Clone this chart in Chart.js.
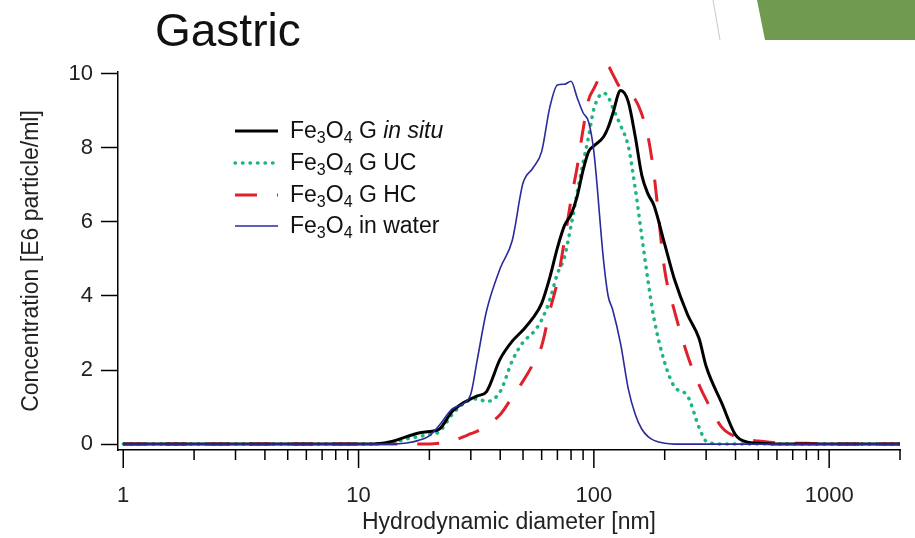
<!DOCTYPE html>
<html>
<head>
<meta charset="utf-8">
<script src="https://cdn.jsdelivr.net/npm/chart.js@4.4.1/dist/chart.umd.min.js"></script>
<style>
  body { margin: 0; background: #fff; }
  canvas { display: block; }
</style>
</head>
<body>
<canvas id="gastricChart" width="915" height="538"></canvas>
<script>
// hydrodynamic diameter grid (nm), shared by all series
const diameters = [1, 5, 10, 12, 14, 16, 18, 20, 22, 25, 28, 30, 32, 35, 40, 45, 50, 55, 60, 65,
                   70, 75, 80, 85, 90, 95, 100, 110, 115, 120, 130, 140, 150, 160, 170, 180, 200,
                   220, 250, 280, 300, 350, 400, 450, 500, 600, 700, 800, 1000, 2000];

// concentration, E6 particle/ml
const inSitu = [0, 0, 0, 0.01, 0.08, 0.2, 0.3, 0.34, 0.4, 0.88, 1.12, 1.22, 1.3, 1.42, 2.3, 2.78, 3.08, 3.4, 3.8, 4.5,
                5.3, 5.9, 6.2, 6.7, 7.4, 7.9, 8.05, 8.3, 8.55, 8.9, 9.55, 9.25, 8.3, 7.25, 6.75, 6.45, 5.4,
                4.45, 3.5, 2.85, 2.1, 1.1, 0.25, 0.05, 0.02, 0, 0, 0, 0, 0];
const ucValues = [0, 0, 0, 0.01, 0.04, 0.14, 0.2, 0.26, 0.33, 0.8, 1.1, 1.2, 1.22, 1.15, 1.42, 2.25, 2.75, 3.0, 3.35, 3.9,
                  4.6, 5.05, 5.9, 6.8, 7.6, 8.3, 9.05, 9.48, 9.38, 9.1, 8.6, 8.05, 6.9, 5.6, 4.4, 3.4, 2.2,
                  1.55, 1.3, 0.45, 0.08, 0, 0, 0, 0, 0, 0, 0, 0, 0];
const hcValues = [0, 0, 0, 0, 0, 0, 0, 0, 0.02, 0.08, 0.2, 0.28, 0.35, 0.5, 0.8, 1.27, 1.7, 2.15, 2.65, 3.6,
                  4.4, 5.5, 6.6, 7.5, 8.5, 9.3, 9.6, 10.1, 10.2, 10.0, 9.6, 9.45, 9.3, 8.9, 8.3, 7.3, 4.7,
                  3.6, 2.4, 1.6, 1.2, 0.45, 0.2, 0.12, 0.08, 0.03, 0.02, 0.02, 0, 0];
const waterValues = [0, 0, 0, 0, 0, 0.03, 0.1, 0.22, 0.5, 0.95, 1.1, 1.35, 2.3, 3.6, 4.75, 5.5, 7.05, 7.45, 7.9, 9.1,
                     9.7, 9.72, 9.8, 9.35, 8.95, 8.7, 7.9, 4.95, 4.0, 3.65, 2.7, 1.5, 0.8, 0.4, 0.2, 0.1, 0.02,
                     0, 0, 0, 0, 0, 0, 0, 0, 0, 0, 0, 0, 0];

const seriesLabels = ["Fe3O4 G in situ", "Fe3O4 G UC", "Fe3O4 G HC", "Fe3O4 in water"];

const xTickValues = [1, 2, 3, 4, 5, 6, 7, 8, 9, 10, 20, 30, 40, 50, 60, 70, 80, 90,
                     100, 200, 300, 400, 500, 600, 700, 800, 900, 1000, 2000];
const xMajorTicks = [1, 10, 100, 1000];
const yTickValues = [0, 2, 4, 6, 8, 10];

const FONT = '"Liberation Sans", Arial, sans-serif';

function toPoints(values) {
    return diameters.map((d, i) => ({x: d, y: values[i]}));
}

// title, slide decoration, legend with subscripts, x tick marks
const decorPlugin = {
    id: "decor",
    afterDraw(chart) {
        const ctx = chart.ctx;
        ctx.save();

        ctx.fillStyle = "#111";
        ctx.font = "46px " + FONT;
        ctx.textBaseline = "alphabetic";
        ctx.fillText("Gastric", 155, 46);

        ctx.strokeStyle = "#c8c8c8";
        ctx.lineWidth = 1;
        ctx.beginPath();
        ctx.moveTo(713, 0);
        ctx.lineTo(720, 40);
        ctx.stroke();

        ctx.fillStyle = "#6f9a4f";
        ctx.beginPath();
        ctx.moveTo(757, 0);
        ctx.lineTo(915, 0);
        ctx.lineTo(915, 40);
        ctx.lineTo(765, 40);
        ctx.closePath();
        ctx.fill();

        // x tick marks
        const xs = chart.scales.x;
        ctx.strokeStyle = "#000";
        ctx.lineWidth = 1.5;
        xTickValues.forEach(v => {
            const px = xs.getPixelForValue(v);
            const len = xMajorTicks.includes(v) ? 18 : 10;
            ctx.beginPath();
            ctx.moveTo(px, xs.top);
            ctx.lineTo(px, xs.top + len);
            ctx.stroke();
        });

        // legend, in the order of seriesLabels
        const rows = [131, 163, 195, 226];
        seriesLabels.forEach((label, i) => {
            const ds = chart.data.datasets.find(d => d.label === label);
            const y = rows[i];
            ctx.save();
            ctx.strokeStyle = ds.borderColor;
            ctx.lineWidth = ds.borderWidth;
            ctx.lineCap = ds.borderCapStyle || "butt";
            ctx.setLineDash(ds.borderDash || []);
            ctx.beginPath();
            ctx.moveTo(235, y);
            ctx.lineTo(278, y);
            ctx.stroke();
            ctx.restore();
            drawLabel(ctx, 290, y + 7, label);
        });

        ctx.restore();
    }
};

function drawLabel(ctx, x, y, text) {
    const rest = text.replace("Fe3O4", "");
    const parts = [["Fe", 0], ["3", 1], ["O", 0], ["4", 1]];
    const it = rest.indexOf("in situ");
    if (it >= 0) {
        parts.push([rest.slice(0, it), 0]);
        parts.push([rest.slice(it), 2]);
    } else {
        parts.push([rest, 0]);
    }
    ctx.fillStyle = "#111";
    ctx.textBaseline = "alphabetic";
    parts.forEach(([t, kind]) => {
        ctx.font = kind === 1 ? "16px " + FONT : (kind === 2 ? "italic 23px " + FONT : "23px " + FONT);
        ctx.fillText(t, x, kind === 1 ? y + 5 : y);
        x += ctx.measureText(t).width;
    });
}

new Chart(document.getElementById("gastricChart"), {
    type: "line",
    data: {
        datasets: [
            {
                label: seriesLabels[3],
                data: toPoints(waterValues),
                borderColor: "#2a2a9c",
                borderWidth: 1.6,
                order: 0
            },
            {
                label: seriesLabels[0],
                data: toPoints(inSitu),
                borderColor: "#000000",
                borderWidth: 3,
                order: 1
            },
            {
                label: seriesLabels[2],
                data: toPoints(hcValues),
                borderColor: "#e0202c",
                borderWidth: 3,
                borderDash: [22, 20],
                clip: false,
                order: 2
            },
            {
                label: seriesLabels[1],
                data: toPoints(ucValues),
                borderColor: "#1fb57e",
                borderWidth: 3.5,
                borderDash: [0.5, 7],
                borderCapStyle: "round",
                order: 3
            }
        ]
    },
    options: {
        responsive: false,
        animation: false,
        layout: {padding: {top: 72, right: 15, bottom: 0, left: 0}},
        elements: {
            point: {radius: 0},
            line: {cubicInterpolationMode: "monotone", fill: false}
        },
        plugins: {
            legend: {display: false},
            tooltip: {enabled: false}
        },
        scales: {
            x: {
                type: "logarithmic",
                min: 0.95,
                max: 2000,
                afterBuildTicks: s => { s.ticks = xTickValues.map(v => ({value: v})); },
                afterFit: s => { s.height = 88; s.paddingLeft = 0; s.paddingRight = 0; },
                grid: {drawOnChartArea: false, drawTicks: false},
                border: {display: true, color: "#000", width: 1.5},
                ticks: {
                    autoSkip: false,
                    maxRotation: 0,
                    padding: 33,
                    color: "#222",
                    font: {family: FONT, size: 22},
                    callback: v => xMajorTicks.includes(v) ? String(v) : ""
                },
                title: {
                    display: true,
                    text: "Hydrodynamic diameter [nm]",
                    color: "#222",
                    font: {family: FONT, size: 23, lineHeight: 1.2},
                    padding: {top: 0, bottom: 2}
                }
            },
            y: {
                min: -0.16,
                max: 10.05,
                afterBuildTicks: s => { s.ticks = yTickValues.map(v => ({value: v})); },
                afterFit: s => { s.width = 118; s.paddingTop = 0; s.paddingBottom = 0; },
                grid: {drawOnChartArea: false, tickLength: 17, tickColor: "#000", tickWidth: 1.5},
                border: {display: true, color: "#000", width: 1.5},
                ticks: {
                    padding: 8,
                    color: "#222",
                    font: {family: FONT, size: 22}
                },
                title: {
                    display: true,
                    text: "Concentration [E6 particle/ml]",
                    color: "#222",
                    font: {family: FONT, size: 23, lineHeight: 1.2},
                    padding: {top: 18, bottom: 0}
                }
            }
        }
    },
    plugins: [decorPlugin]
});
</script>
</body>
</html>
